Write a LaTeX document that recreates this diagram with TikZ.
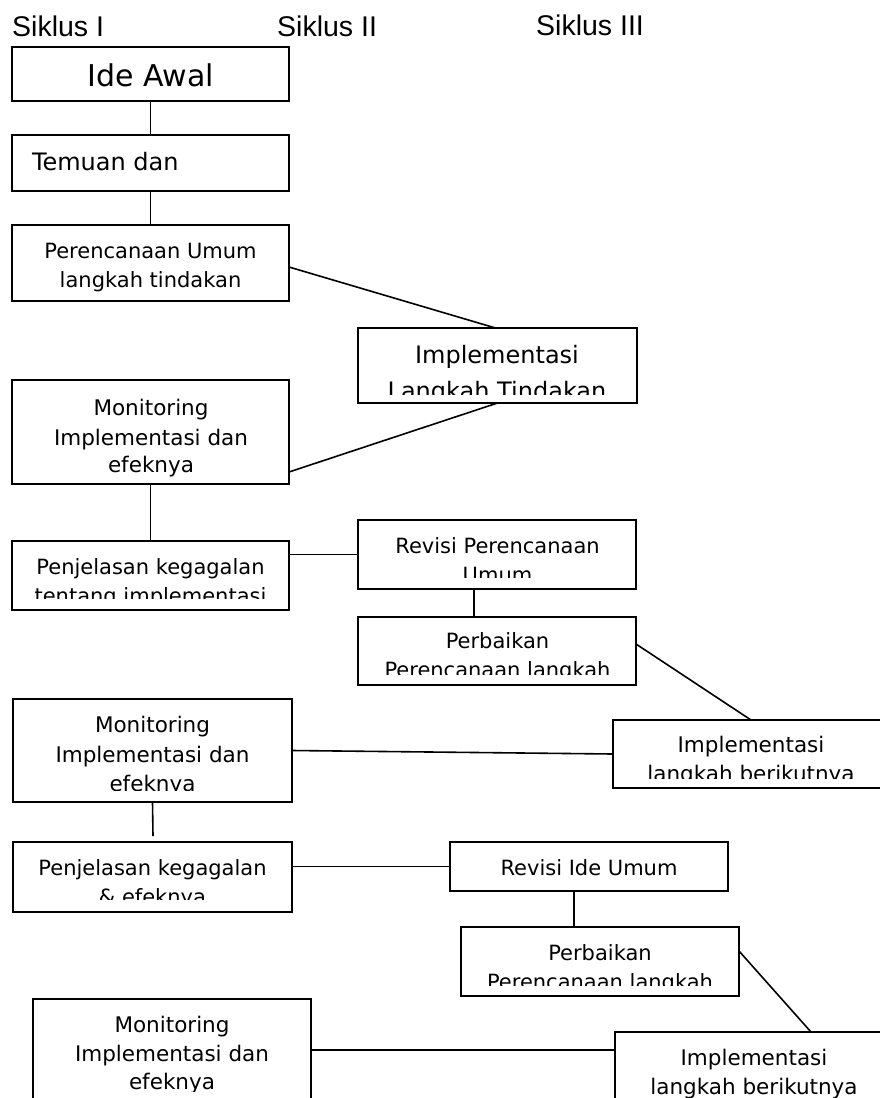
\documentclass[tikz,border=0pt]{standalone}
\usepackage{fontspec}
\setmainfont{DejaVu Sans}
\newfontfamily\hdrfont{Liberation Sans}
\newcommand\myfs[1]{\fontsize{#1pt}{#1pt}\selectfont}
\tikzset{
  box/.style={draw=black, line width=1.9pt, inner sep=0pt, outer sep=0pt},
  lbl/.style={anchor=base, inner sep=0pt, outer sep=0pt},
  hdr/.style={anchor=base west, inner sep=0pt, font=\hdrfont\myfs{28.5}},
  conn/.style={line width=1.6pt},
}
\begin{document}
\begin{tikzpicture}[x=1pt,y=-1pt]
\clip (0,0) rectangle (880,1098);
\fill[white] (0,0) rectangle (880,1098);

% headers
\node[hdr] (h1) at (12,36) {Siklus I};
\node[hdr] (h2) at (277,36) {Siklus II};
\node[hdr] (h3) at (536,35) {Siklus III};

% boxes
\node[box, minimum width=277pt, minimum height=54pt] (b1) at (150.5,74) {};
\node[box, minimum width=277pt, minimum height=56pt] (b2) at (150.5,163) {};
\node[box, minimum width=277pt, minimum height=76pt] (b3) at (150.5,263) {};
\node[box, minimum width=279pt, minimum height=75pt] (b4) at (497.5,365.5) {};
\node[box, minimum width=277pt, minimum height=104pt] (b5) at (150.5,432) {};
\node[box, minimum width=277pt, minimum height=69pt] (b6) at (150.5,575.5) {};
\node[box, minimum width=278pt, minimum height=69pt] (b7) at (497,554.5) {};
\node[box, minimum width=278pt, minimum height=68pt] (b8) at (497,651) {};
\node[box, minimum width=279pt, minimum height=103pt] (b9) at (152.5,750.5) {};
\node[box, minimum width=276pt, minimum height=68pt] (b10) at (751,754) {};
\node[box, minimum width=279pt, minimum height=70pt] (b11) at (152.5,877) {};
\node[box, minimum width=278pt, minimum height=49pt] (b12) at (589,866.5) {};
\node[box, minimum width=278pt, minimum height=69pt] (b13) at (600,961.5) {};
\node[box, minimum width=278pt, minimum height=102pt] (b14) at (172,1050) {};
\node[box, minimum width=277pt, minimum height=68pt] (b15) at (753.5,1066) {};

% texts
\node[lbl, font=\myfs{30}] (t1) at (150.5,86) {Ide Awal};
\node[lbl, anchor=base west, font=\myfs{24}] (t2) at (32,170) {Temuan dan};
\node[lbl, font=\myfs{21}] (t3a) at (150.5,258) {Perencanaan Umum};
\node[lbl, font=\myfs{21}] (t3b) at (150.5,287) {langkah tindakan};
\begin{scope}
  \clip (358,328) rectangle (637,394);
  \node[lbl, font=\myfs{24}] (t4a) at (497,363) {Implementasi};
  \node[lbl, font=\myfs{24}] (t4b) at (497,399) {Langkah Tindakan};
\end{scope}
\node[lbl, font=\myfs{21.5}] (t5a) at (151,415) {Monitoring};
\node[lbl, font=\myfs{21.5}] (t5b) at (151,445) {Implementasi dan};
\node[lbl, font=\myfs{21.5}] (t5c) at (151,472) {efeknya};
\begin{scope}
  \clip (12,541) rectangle (289,598);
  \node[lbl, font=\myfs{21}] (t6a) at (150.5,574) {Penjelasan kegagalan};
  \node[lbl, font=\myfs{21}] (t6b) at (150.5,603) {tentang implementasi};
\end{scope}
\begin{scope}
  \clip (358,520) rectangle (636,577);
  \node[lbl, font=\myfs{21}] (t7a) at (497.5,553) {Revisi Perencanaan};
  \node[lbl, font=\myfs{21}] (t7b) at (497.5,582) {Umum};
\end{scope}
\begin{scope}
  \clip (358,617) rectangle (636,674);
  \node[lbl, font=\myfs{21}] (t8a) at (497.5,648) {Perbaikan};
  \node[lbl, font=\myfs{21}] (t8b) at (497.5,677) {Perencanaan langkah};
\end{scope}
\begin{scope}
  \clip (13,699) rectangle (292,790);
  \node[lbl, font=\myfs{21.5}] (t9a) at (152.5,732) {Monitoring};
  \node[lbl, font=\myfs{21.5}] (t9b) at (152.5,762) {Implementasi dan};
  \node[lbl, font=\myfs{21.5}] (t9c) at (152.5,791) {efeknya};
\end{scope}
\begin{scope}
  \clip (613,720) rectangle (889,778);
  \node[lbl, font=\myfs{21.5}] (t10a) at (751,752) {Implementasi};
  \node[lbl, font=\myfs{21.5}] (t10b) at (751,781) {langkah berikutnya};
\end{scope}
\begin{scope}
  \clip (13,842) rectangle (292,899);
  \node[lbl, font=\myfs{21}] (t11a) at (152.5,875) {Penjelasan kegagalan};
  \node[lbl, font=\myfs{21}] (t11b) at (152.5,904) {\& efeknya};
\end{scope}
\node[lbl, font=\myfs{21}] (t12) at (589,875) {Revisi Ide Umum};
\begin{scope}
  \clip (461,927) rectangle (739,985);
  \node[lbl, font=\myfs{21}] (t13a) at (600,960) {Perbaikan};
  \node[lbl, font=\myfs{21}] (t13b) at (600,989) {Perencanaan langkah};
\end{scope}
\begin{scope}
  \clip (33,999) rectangle (311,1091);
  \node[lbl, font=\myfs{21.5}] (t14a) at (172,1032) {Monitoring};
  \node[lbl, font=\myfs{21.5}] (t14b) at (172,1061) {Implementasi dan};
  \node[lbl, font=\myfs{21.5}] (t14c) at (172,1089) {efeknya};
\end{scope}
\begin{scope}
  \clip (615,1032) rectangle (892,1097);
  \node[lbl, font=\myfs{21.5}] (t15a) at (754,1065) {Implementasi};
  \node[lbl, font=\myfs{21.5}] (t15b) at (754,1094) {langkah berikutnya};
\end{scope}

% connectors
\draw[conn] (b1.south) -- (b2.north);
\draw[conn] (b2.south) -- (b3.north);
\draw[conn] ([yshift=-4pt]b3.east) -- ([xshift=-2pt]b4.north);
\draw[conn] (b4.south) -- ([yshift=-40pt]b5.east);
\draw[conn] (b5.south) -- (b6.north);
\draw[conn] (b6.east |- b7.west) -- (b7.west);
\draw[conn] ([xshift=-23pt]b7.south) -- ([xshift=-23pt]b8.north);
\draw[conn] ([yshift=7pt]b8.east) -- (b10.north);
\draw[conn] (b9.east) -- (b10.west);
\coordinate (c5e) at (153,836);
\draw[conn] (b9.south) -- (c5e);
\draw[conn] (b11.east |- b12.west) -- (b12.west);
\draw[conn] ([xshift=-15pt]b12.south) -- ([xshift=-26pt]b13.north);
\draw[conn] ([yshift=10.5pt]b13.east) -- ([xshift=57.5pt]b15.north);
\draw[conn] (b14.east) -- (b14.east -| b15.west);
\end{tikzpicture}
\end{document}
